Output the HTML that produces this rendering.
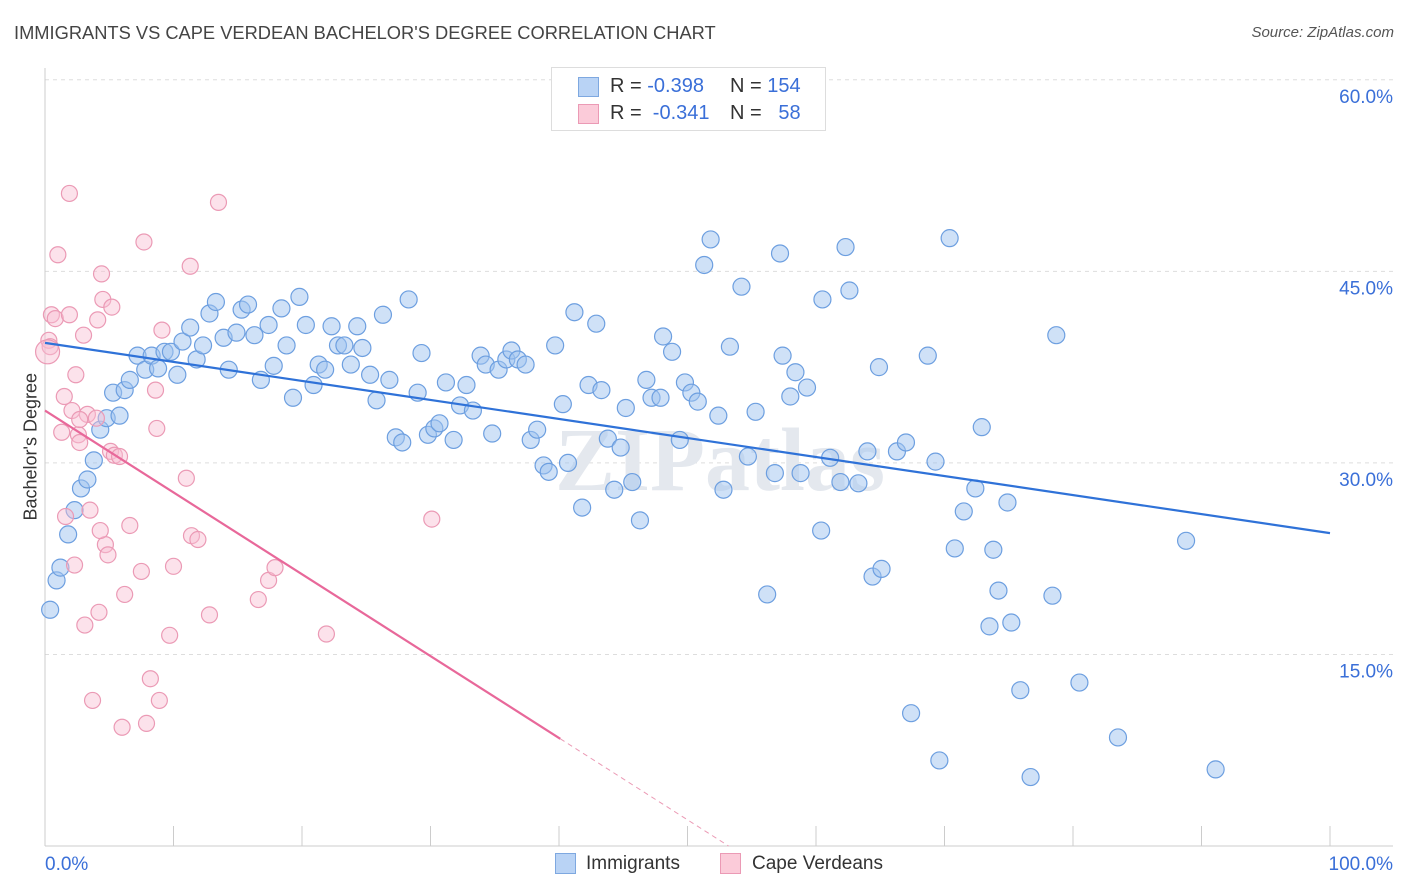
<!DOCTYPE html>
<html><head><meta charset="utf-8">
<style>
body{margin:0;background:#fff;font-family:"Liberation Sans",sans-serif;}
#wrap{position:relative;width:1406px;height:892px;overflow:hidden;}
.t{position:absolute;white-space:nowrap;}
</style></head>
<body>
<div id="wrap">
<div class="t" style="left:14px;top:22px;font-size:18.3px;color:#444;">IMMIGRANTS VS CAPE VERDEAN BACHELOR'S DEGREE CORRELATION CHART</div>
<div class="t" style="right:12px;top:24px;font-size:15px;color:#555;font-style:italic;">Source: ZipAtlas.com</div>
<svg id="svg" width="1406" height="892" style="position:absolute;left:0;top:0"></svg>
<div class="t" style="left:-34px;top:445px;font-size:18px;color:#333;transform:rotate(-90deg);transform-origin:center;width:130px;text-align:center;">Bachelor's Degree</div>
<div style="position:absolute;left:551px;top:67px;width:273px;height:62px;border:1px solid #ddd;background:#fff;font-size:20px;color:#333;">
 <div style="position:absolute;left:26px;top:9px;width:19px;height:18px;background:#b9d3f5;border:1px solid #7ea8e0;"></div>
 <div class="t" style="left:58px;top:7px;">R = <span style="color:#3a6fd8">-0.398</span></div>
 <div class="t" style="left:178px;top:7px;">N = <span style="color:#3a6fd8">154</span></div>
 <div style="position:absolute;left:26px;top:36px;width:19px;height:18px;background:#fbcbd9;border:1px solid #eb9ab5;"></div>
 <div class="t" style="left:58px;top:34px;">R = &nbsp;<span style="color:#3a6fd8">-0.341</span></div>
 <div class="t" style="left:178px;top:34px;">N = &nbsp;&nbsp;<span style="color:#3a6fd8">58</span></div>
</div>
<div style="position:absolute;left:555px;top:853px;width:19px;height:19px;background:#b9d3f5;border:1px solid #7ea8e0;"></div>
<div class="t" style="left:586px;top:853px;font-size:19px;color:#333;">Immigrants</div>
<div style="position:absolute;left:720px;top:853px;width:19px;height:19px;background:#fbcbd9;border:1px solid #eb9ab5;"></div>
<div class="t" style="left:752px;top:853px;font-size:19px;color:#333;">Cape Verdeans</div>
</div>
<script>
const yTicks=[15,30,45,60];
const yTickLabels=["15.0%","30.0%","45.0%","60.0%"];
const xTickLabels=["0.0%","100.0%"];
const blueX=[0.4,0.9,1.2,1.8,2.3,2.8,3.3,3.8,4.3,4.8,5.3,5.8,6.2,6.6,7.2,7.8,8.3,8.8,9.3,9.8,10.3,10.7,11.3,11.8,12.3,12.8,13.3,13.9,14.3,14.9,15.3,15.8,16.3,16.8,17.4,17.8,18.4,18.8,19.3,19.8,20.3,20.9,21.3,21.8,22.3,22.8,23.3,23.8,24.3,24.7,25.3,25.8,26.3,26.8,27.3,27.8,28.3,29.0,29.3,29.8,30.3,30.7,31.2,31.8,32.3,32.8,33.3,33.9,34.3,34.8,35.3,35.9,36.3,36.8,37.4,37.8,38.3,38.8,39.2,39.7,40.3,40.7,41.2,41.8,42.3,42.9,43.3,43.8,44.3,44.8,45.2,45.7,46.3,46.8,47.2,47.9,48.1,48.8,49.4,49.8,50.3,50.8,51.3,51.8,52.4,52.8,53.3,54.2,54.7,55.3,56.2,56.8,57.2,57.4,58.0,58.4,58.8,59.3,60.4,60.5,61.1,61.9,62.3,62.6,63.3,64.0,64.4,64.9,65.1,66.3,67.0,67.4,68.7,69.3,69.6,70.4,70.8,71.5,72.4,72.9,73.5,73.8,74.2,74.9,75.2,75.9,76.7,78.4,78.7,80.5,83.5,88.8,91.1];
const blueY=[18.5,20.8,21.8,24.4,26.3,28.0,28.7,30.2,32.6,33.5,35.5,33.7,35.7,36.5,38.4,37.3,38.4,37.4,38.7,38.7,36.9,39.5,40.6,38.1,39.2,41.7,42.6,39.8,37.3,40.2,42.0,42.4,40.0,36.5,40.8,37.6,42.1,39.2,35.1,43.0,40.8,36.1,37.7,37.3,40.7,39.2,39.2,37.7,40.7,39.0,36.9,34.9,41.6,36.5,32.0,31.6,42.8,35.5,38.6,32.2,32.7,33.1,36.3,31.8,34.5,36.1,34.1,38.4,37.7,32.3,37.3,38.1,38.8,38.1,37.7,31.8,32.6,29.8,29.3,39.2,34.6,30.0,41.8,26.5,36.1,40.9,35.7,31.9,27.9,31.2,34.3,28.5,25.5,36.5,35.1,35.1,39.9,38.7,31.8,36.3,35.5,34.8,45.5,47.5,33.7,27.9,39.1,43.8,30.5,34.0,19.7,29.2,46.4,38.4,35.2,37.1,29.2,35.9,24.7,42.8,30.4,28.5,46.9,43.5,28.4,30.9,21.1,37.5,21.7,30.9,31.6,10.4,38.4,30.1,6.7,47.6,23.3,26.2,28.0,32.8,17.2,23.2,20.0,26.9,17.5,12.2,5.4,19.6,40.0,12.8,8.5,23.9,6.0];
const pinkX=[0.3,0.4,0.5,0.8,1.0,1.3,1.5,1.6,1.9,1.9,2.1,2.3,2.4,2.6,2.7,3.0,3.1,3.3,3.5,3.7,4.0,4.1,4.2,4.4,4.5,4.7,4.9,5.1,5.2,5.4,5.8,6.2,6.6,7.5,7.7,7.9,8.2,8.6,8.7,8.9,9.1,9.7,10.0,11.0,11.3,11.4,11.9,12.8,13.5,16.6,17.4,17.9,21.9,30.1,2.7,4.3,6.0,0.2];
const pinkY=[39.6,39.1,41.6,41.3,46.3,32.4,35.2,25.8,51.1,41.6,34.1,22.0,36.9,32.2,31.6,40.0,17.3,33.8,26.3,11.4,33.5,41.2,18.3,44.8,42.8,23.6,22.8,30.9,42.2,30.6,30.5,19.7,25.1,21.5,47.3,9.6,13.1,35.7,32.7,11.4,40.4,16.5,21.9,28.8,45.4,24.3,24.0,18.1,50.4,19.3,20.8,21.8,16.6,25.6,33.4,24.7,9.3,38.7];
const blueTrend=[39.4,24.5];
const pinkTrend=[34.1,-0.641];
const pinkSolidEnd=40.1;

const svg=document.getElementById('svg');
const NS='http://www.w3.org/2000/svg';
const X=v=>45+v*12.85, Y=v=>846-v*12.77;
function mk(t,a){const e=document.createElementNS(NS,t);for(const k in a)e.setAttribute(k,a[k]);svg.appendChild(e);return e;}
yTicks.forEach((v,i)=>{
 const g=mk('line',{x1:45,x2:1393,y1:Y(v),y2:Y(v),stroke:'#ddd','stroke-dasharray':'4,4'});
 
 
 const t=mk('text',{x:1393,y:Y(v)+23,'text-anchor':'end','font-size':19,fill:'#3a6fd8','font-family':'Liberation Sans'});
 t.textContent=yTickLabels[i];
 
 
});
const ax=mk('line',{x1:45,x2:45,y1:68,y2:846,stroke:'#ccc'});


const bx=mk('line',{x1:45,x2:1393,y1:846,y2:846,stroke:'#ccc'});


for(let i=1;i<=10;i++){const tk=mk('line',{x1:X(i*10),x2:X(i*10),y1:826,y2:846,stroke:'#ccc'});
 
 }
[[0,'start',45],[100,'end',1393]].forEach((d,i)=>{const t=mk('text',{x:d[2],y:870,'text-anchor':d[1],'font-size':19,fill:'#3a6fd8','font-family':'Liberation Sans'});t.textContent=xTickLabels[i];
 
 });
const wm=mk('text',{x:720,y:490,'text-anchor':'middle','font-size':90,fill:'#e4e8ee','font-family':'Liberation Serif','font-weight':'bold'});
wm.textContent='ZIPatlas';


blueX.forEach((x,i)=>{const c=mk('circle',{cx:X(x),cy:Y(blueY[i]),r:8.5,fill:'rgba(160,195,240,0.5)',stroke:'#6d9fe0','stroke-width':1.2});
 
 });
pinkX.forEach((x,i)=>{const c=mk('circle',{cx:X(x),cy:Y(pinkY[i]),r:i==pinkX.length-1?12:8,fill:'rgba(248,190,210,0.45)',stroke:'#eb9ab5','stroke-width':1.2});
 
 });
const bl=mk('line',{x1:X(0),y1:Y(blueTrend[0]),x2:X(100),y2:Y(blueTrend[1]),stroke:'#2f72d8','stroke-width':2.2});


const pz=-pinkTrend[0]/pinkTrend[1];
const pl=mk('line',{x1:X(0),y1:Y(pinkTrend[0]),x2:X(pinkSolidEnd),y2:Y(pinkTrend[0]+pinkTrend[1]*pinkSolidEnd),stroke:'#e8689a','stroke-width':2.2});


const pd=mk('line',{x1:X(pinkSolidEnd),y1:Y(pinkTrend[0]+pinkTrend[1]*pinkSolidEnd),x2:X(pz),y2:Y(0),stroke:'#eb9ab5','stroke-width':1,'stroke-dasharray':'5,4'});


</script>
</body></html>
